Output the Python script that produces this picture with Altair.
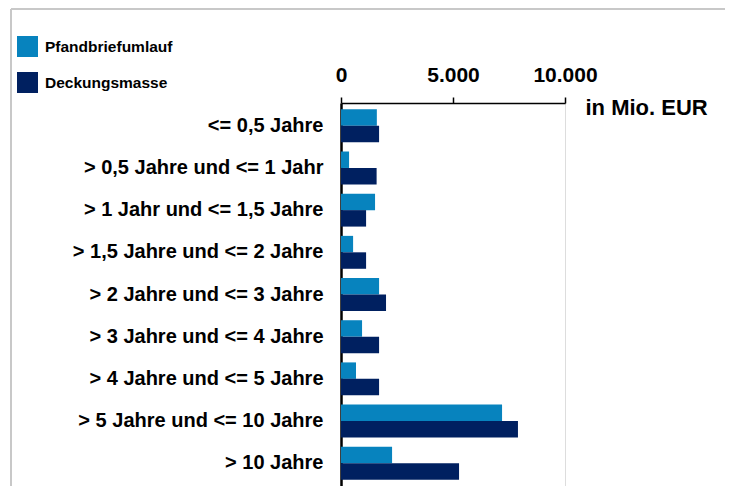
import altair as alt
import pandas as pd

categories = [
    "<= 0,5 Jahre",
    "> 0,5 Jahre und <= 1 Jahr",
    "> 1 Jahr und <= 1,5 Jahre",
    "> 1,5 Jahre und <= 2 Jahre",
    "> 2 Jahre und <= 3 Jahre",
    "> 3 Jahre und <= 4 Jahre",
    "> 4 Jahre und <= 5 Jahre",
    "> 5 Jahre und <= 10 Jahre",
    "> 10 Jahre",
]
series = ["Pfandbriefumlauf", "Deckungsmasse"]
pfandbriefumlauf = [1600, 360, 1520, 540, 1700, 940, 670, 7190, 2280]
deckungsmasse = [1700, 1590, 1120, 1120, 2010, 1700, 1700, 7900, 5270]
colors = ["#0783BE", "#002060"]
x_ticks = [0, 5000, 10000]

rows = []
for c, a, b in zip(categories, pfandbriefumlauf, deckungsmasse):
    rows.append({"Laufzeit": c, "Serie": series[0], "Wert": a})
    rows.append({"Laufzeit": c, "Serie": series[1], "Wert": b})
df = pd.DataFrame(rows)

W = 224
H = 383

bars = alt.Chart(df).mark_bar().encode(
    y=alt.Y(
        "Laufzeit:N",
        sort=categories,
        scale=alt.Scale(paddingInner=0.22, paddingOuter=0.15),
        axis=alt.Axis(
            title=None,
            ticks=False,
            domainColor="black",
            domainWidth=2.5,
            labelFont="Liberation Sans",
            labelFontWeight="bold",
            labelFontSize=20,
            labelColor="black",
            labelPadding=18,
            labelLimit=400,
            grid=False,
        ),
    ),
    yOffset=alt.YOffset("Serie:N", sort=series),
    x=alt.X(
        "Wert:Q",
        scale=alt.Scale(domain=[0, 10000], nice=False),
        axis=alt.Axis(
            orient="top",
            values=x_ticks,
            labelExpr="replace(format(datum.value, ',d'), ',', '.')",
            title="in Mio. EUR",
            titleFont="Liberation Sans",
            titleFontWeight="bold",
            titleFontSize=22,
            titleColor="black",
            titleAlign="left",
            titleBaseline="middle",
            titleAnchor="start",
            titleX=244,
            titleY=4,
            labelFont="Liberation Sans",
            labelFontWeight="bold",
            labelFontSize=21,
            labelColor="black",
            labelPadding=12,
            labelFlush=False,
            domainColor="black",
            domainWidth=1.5,
            tickColor="black",
            tickWidth=1.5,
            tickSize=6,
            grid=False,
        ),
    ),
    color=alt.Color(
        "Serie:N",
        sort=series,
        scale=alt.Scale(domain=series, range=colors),
        legend=alt.Legend(
            title=None,
            orient="none",
            legendX=-324,
            legendY=-67,
            padding=0,
            symbolType="square",
            symbolSize=441,
            symbolStrokeWidth=0,
            symbolOpacity=1,
            rowPadding=15,
            labelOffset=7,
            labelFont="Liberation Sans",
            labelFontWeight="bold",
            labelFontSize=15.5,
            labelColor="black",
            labelLimit=300,
        ),
    ),
)

frame = alt.Chart(alt.Data(values=[{}]))
top_line = frame.mark_rule(color="#C8C8C8", strokeWidth=2).encode(
    x=alt.value(-330), x2=alt.value(W + 400), y=alt.value(-94)
)
left_line = frame.mark_rule(color="#C8C8C8", strokeWidth=2).encode(
    x=alt.value(-330), y=alt.value(-94), y2=alt.value(H + 40)
)

chart = (
    alt.layer(top_line, left_line, bars)
    .properties(
        width=W,
        height=H,
        autosize=alt.AutoSizeParams(type="none"),
        padding={"left": 333, "top": 95, "right": 160, "bottom": 0},
    )
    .configure_view(stroke=None)
    .configure(background="white")
)

chart.save("out.html", embed_options={"renderer": "svg", "actions": False})
